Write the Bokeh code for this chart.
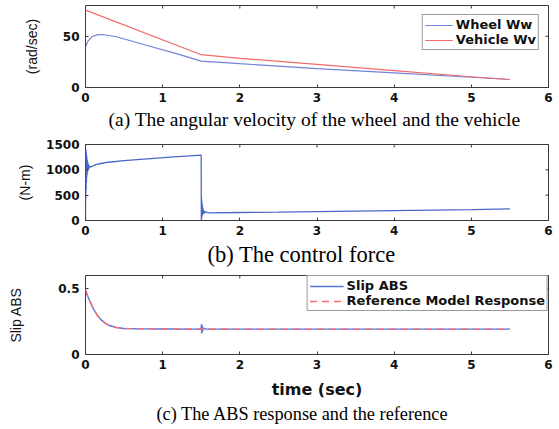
from bokeh.plotting import figure
from bokeh.models import Range1d, FixedTicker
from bokeh.layouts import column
from bokeh.embed import file_html
from bokeh.resources import INLINE

# ---------------- data ----------------
x_ticks = [0, 1, 2, 3, 4, 5, 6]

# (a) angular velocity
t_wheel = [0.0, 0.03, 0.08, 0.15, 0.22, 0.40, 0.80, 1.20, 1.50, 2.0, 3.0, 4.0, 5.0, 5.5]
wheel_ww = [39.5, 45.0, 49.5, 51.3, 51.7, 49.5, 41.0, 32.5, 25.8, 23.2, 18.5, 14.2, 10.0, 7.8]
t_vehicle = [0.0, 1.5, 2.0, 3.0, 4.0, 5.0, 5.5]
vehicle_wv = [75.5, 32.0, 28.5, 22.5, 16.5, 10.5, 7.8]
a_yticks = [0, 50]

# (b) control force
t_force = [0.0, 0.002, 0.004, 0.006, 0.008, 0.010, 0.012, 0.014, 0.016, 0.018,
           0.020, 0.022, 0.025, 0.028, 0.032, 0.036, 0.040, 0.050, 0.065, 0.10,
           0.14, 0.20, 0.30, 0.50, 0.80, 1.10, 1.499, 1.501, 1.503, 1.505,
           1.507, 1.509, 1.511, 1.513, 1.516, 1.519, 1.523, 1.527, 1.532, 1.540,
           1.550, 1.570, 1.600, 2.0, 2.5, 3.0, 3.5, 4.0, 4.5, 5.0, 5.5]
control_force = [0, 1420, 450, 1400, 600, 1350, 750, 1300, 850, 1250,
                 900, 1200, 950, 1160, 980, 1120, 1010, 1080, 1054, 1080,
                 1106, 1125, 1150, 1180, 1215, 1250, 1290, 0, 460, 30,
                 400, 70, 340, 100, 290, 120, 240, 130, 200, 145,
                 175, 160, 150, 158, 165, 175, 185, 195, 205, 215, 228]
b_yticks = [0, 500, 1000, 1500]

# (c) slip
t_slip = [0.0, 0.03, 0.06, 0.10, 0.15, 0.20, 0.25, 0.30, 0.40, 0.50,
          0.70, 1.00, 1.499, 1.502, 1.505, 1.508, 1.511, 1.515, 1.520, 1.530,
          1.560, 2.0, 3.0, 4.0, 5.0, 5.5]
slip_abs = [0.49, 0.44, 0.40, 0.35, 0.30, 0.265, 0.24, 0.222, 0.205, 0.198,
            0.195, 0.194, 0.193, 0.23, 0.16, 0.225, 0.17, 0.215, 0.18, 0.20,
            0.193, 0.193, 0.193, 0.193, 0.193, 0.193]
t_ref = [0.0, 0.03, 0.06, 0.10, 0.15, 0.20, 0.25, 0.30, 0.40, 0.50,
         0.70, 1.00, 2.0, 3.0, 4.0, 5.0, 5.5]
ref_model = [0.49, 0.44, 0.40, 0.35, 0.30, 0.265, 0.24, 0.222, 0.205, 0.198,
             0.195, 0.194, 0.193, 0.193, 0.193, 0.193, 0.193]
c_yticks = [0, 0.5]

# ---------------- style helpers ----------------
TICK_FONT = "DejaVu Sans"
FRAME = "#3a3a3a"
X_END = 6


def make_fig(height, top, bottom, left, right, y_end, y_ticks, ylabel,
             ylabel_standoff, ylabel_size, caption, caption_size, caption_offset,
             caption_standoff, xlabel=None):
    p = figure(width=559, height=height, output_backend="svg", toolbar_location=None,
               x_range=Range1d(0, X_END), y_range=Range1d(0, y_end),
               min_border_top=top, min_border_bottom=bottom,
               min_border_left=left, min_border_right=right,
               title_location="below", title=caption)
    p.grid.visible = False
    p.outline_line_color = FRAME
    p.outline_line_width = 1
    p.background_fill_color = "white"
    p.border_fill_color = "white"

    for ax in (p.xaxis[0], p.yaxis[0]):
        ax.axis_line_color = None
        ax.major_tick_in = 3
        ax.major_tick_out = 0
        ax.minor_tick_in = 0
        ax.minor_tick_out = 0
        ax.major_tick_line_color = FRAME
        ax.major_label_text_font = TICK_FONT
        ax.major_label_text_font_style = "bold"
        ax.major_label_text_font_size = "12px"
        ax.major_label_text_color = "#111111"
    p.xaxis[0].ticker = FixedTicker(ticks=x_ticks)
    p.xaxis[0].major_label_standoff = 5
    p.yaxis[0].ticker = FixedTicker(ticks=y_ticks)
    p.yaxis[0].major_label_standoff = 6
    p.yaxis[0].major_label_overrides = {v: ("%g" % v) for v in y_ticks}
    p.yaxis[0].axis_label = ylabel
    p.yaxis[0].axis_label_text_font = "Liberation Sans"
    p.yaxis[0].axis_label_text_font_style = "normal"
    p.yaxis[0].axis_label_text_font_size = ylabel_size
    p.yaxis[0].axis_label_standoff = ylabel_standoff
    p.yaxis[0].axis_label_text_color = "#111111"
    if xlabel:
        p.xaxis[0].axis_label = xlabel
        p.xaxis[0].axis_label_text_font = TICK_FONT
        p.xaxis[0].axis_label_text_font_style = "bold"
        p.xaxis[0].axis_label_text_font_size = "16px"
        p.xaxis[0].axis_label_standoff = 8
        p.xaxis[0].axis_label_text_color = "#111111"

    # Matlab-style box ticks on the top and right edges (inward half of a dash marker)
    p.scatter(x_ticks, [y_end] * len(x_ticks), marker="dash", size=6, angle=90,
              angle_units="deg", line_color=FRAME, line_width=1)
    p.scatter([X_END] * len(y_ticks), y_ticks, marker="dash", size=6,
              line_color=FRAME, line_width=1)

    p.title.text_font = "Liberation Serif"
    p.title.text_font_style = "normal"
    p.title.text_font_size = caption_size
    p.title.text_color = "#000000"
    p.title.align = "left"
    p.title.offset = caption_offset
    p.title.standoff = caption_standoff
    return p


# (a)
pa = make_fig(137, 5, 50, 85, 11, 80, a_yticks, "(rad/sec)", 20, "14px",
              "(a) The angular velocity of the wheel and the vehicle", "19.5px", 23, 5)
pa.line(t_wheel, wheel_ww, color="#7282da", line_width=1.2, legend_label="Wheel Ww")
pa.line(t_vehicle, vehicle_wv, color="#f26a6a", line_width=1.2, legend_label="Vehicle Wv")

# (b)
pb = make_fig(131, 7, 47, 85, 11, 1500, b_yticks, "(N-m)", 10, "14px",
              "(b) The control force", "22.5px", 122, 4)
pb.line(t_force, control_force, color="#4a67c8", line_width=1.3)

# (c)
pc = make_fig(161, 7, 75, 84, 4, 0.6, c_yticks, "Slip ABS", 31, "14px",
              "(c) The ABS response and the reference", "18.3px", 71, 0,
              xlabel="time (sec)")
pc.line(t_slip, slip_abs, color="#5b72d6", line_width=1.4, legend_label="Slip ABS")
pc.line(t_ref, ref_model, color="#ff6b6b", line_width=1.4, line_dash="7 5",
        legend_label="Reference Model Response")

for p, margin, gw in ((pa, 9, 28), (pc, 0, 34)):
    lg = p.legend[0]
    lg.location = "top_right"
    lg.margin = margin
    lg.border_line_color = "#333333"
    lg.border_line_width = 1
    lg.background_fill_alpha = 1
    lg.label_text_font = TICK_FONT
    lg.label_text_font_style = "bold"
    lg.label_text_font_size = "13px"
    lg.label_text_color = "#111111"
    lg.glyph_width = gw
    lg.glyph_height = 12
    lg.label_height = 12
    lg.label_standoff = 3
    lg.padding = 2
    lg.spacing = 0

layout = column(pa, pb, pc, spacing=0)
open("out.html", "w").write(file_html(layout, INLINE))
